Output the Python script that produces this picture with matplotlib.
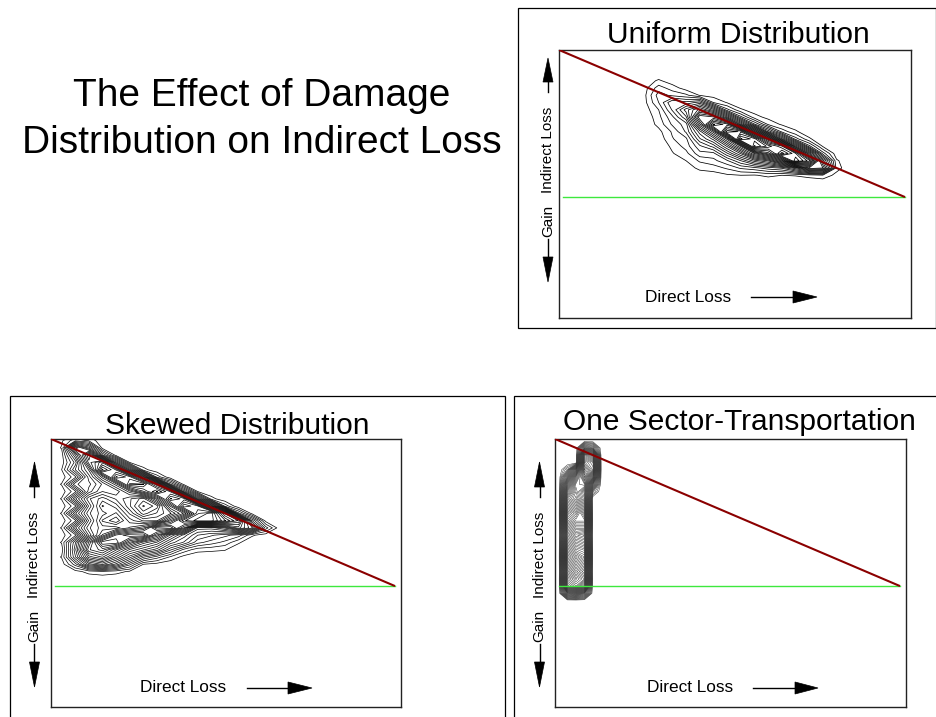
import numpy as np
import matplotlib
matplotlib.use("Agg")
import matplotlib.pyplot as plt
from matplotlib.patches import Rectangle, Polygon
from matplotlib.lines import Line2D

plt.rcParams['font.family'] = ['Liberation Sans', 'DejaVu Sans']

# ------------------------------------------------------------------
# Density grids (bin centres and counts) for the three damage scenarios.
# Each grid is surrounded by a ring of empty bins when contoured.
# ------------------------------------------------------------------
uniform_x = [0.20, 0.24, 0.28, 0.32, 0.36, 0.40, 0.44, 0.48, 0.52,
             0.56, 0.60, 0.64, 0.68, 0.72, 0.76, 0.80, 0.84]
uniform_y = [0.90, 0.85, 0.80, 0.75, 0.70, 0.65, 0.60, 0.55, 0.50,
             0.45, 0.40, 0.35, 0.30, 0.25, 0.20, 0.15, 0.10]
uniform_density = [
    [0, 0, 0, 0, 0, 0, 0, 0, 0, 0, 0, 0, 0, 0, 0],
    [0.3, 1.2, 0.3, 0, 0, 0, 0, 0, 0, 0, 0, 0, 0, 0, 0],
    [0.6, 2.8, 1.6, 0.4, 0, 0, 0, 0, 0, 0, 0, 0, 0, 0, 0],
    [0.8, 4, 3.1, 2.5, 0.9, 0.5, 0, 0, 0, 0, 0, 0, 0, 0, 0],
    [0.7, 3.4, 7, 6.2, 7.5, 2.2, 0.9, 0, 0, 0, 0, 0, 0, 0, 0],
    [0.4, 2.2, 6, 10, 13.5, 10, 3.8, 1.2, 0.4, 0, 0, 0, 0, 0, 0],
    [0, 1.8, 4.3, 8, 19, 18, 12, 5, 1.5, 0.6, 0, 0, 0, 0, 0],
    [0, 1.4, 3.6, 5.2, 15, 24, 22, 13, 6, 2, 0.8, 0.3, 0, 0, 0],
    [0, 0.6, 2.4, 4.8, 10, 16, 27, 26, 17, 8, 3, 1.2, 0.2, 0, 0],
    [0, 0.2, 2.1, 3.1, 8, 11, 17, 30, 28, 20, 11, 4, 1.2, 0, 0],
    [0, 0, 1.3, 2.7, 5.5, 7.5, 12, 18, 30, 27, 24, 13, 5, 0.8, 0],
    [0, 0, 0.9, 1.8, 4.2, 4.2, 8, 12, 18, 22, 28, 24, 14, 4, 0.2],
    [0, 0, 0.3, 1.0, 2.4, 3, 4.4, 7, 10, 12, 17, 26, 22, 10, 1.2],
    [0, 0, 0, 0.4, 1.3, 1.6, 2.4, 3.6, 4.2, 5.2, 6, 9, 14, 13, 1.6],
    [0, 0, 0, 0, 0.3, 0.4, 0.8, 1.0, 0.9, 1.3, 1.0, 1.1, 1.5, 2, 0.5],
]

skewed_x = [-0.02, 0.02, 0.06, 0.10, 0.14, 0.18, 0.22, 0.26, 0.30, 0.34,
            0.38, 0.42, 0.46, 0.50, 0.54, 0.58, 0.62, 0.66, 0.70]
skewed_y = [1.05, 1.00, 0.95, 0.90, 0.85, 0.80, 0.75, 0.70, 0.65, 0.60, 0.55,
            0.50, 0.45, 0.40, 0.35, 0.30, 0.25, 0.20, 0.15, 0.10, 0.05]
skewed_density = [
    [0.8, 3, 2, 0, 0, 0, 0, 0, 0, 0, 0, 0, 0, 0, 0, 0, 0],
    [1.1, 14, 9, 0.5, 0, 0, 0, 0, 0, 0, 0, 0, 0, 0, 0, 0, 0],
    [0.4, 8, 18, 6, 0.5, 0, 0, 0, 0, 0, 0, 0, 0, 0, 0, 0, 0],
    [0.3, 5, 16, 20, 9, 1, 0, 0, 0, 0, 0, 0, 0, 0, 0, 0, 0],
    [1.0, 7, 12, 24, 20, 10, 1.5, 0, 0, 0, 0, 0, 0, 0, 0, 0, 0],
    [0.3, 3, 10, 16, 24, 22, 14, 3, 0, 0, 0, 0, 0, 0, 0, 0, 0],
    [1.1, 8, 9, 12, 16, 24, 24, 18, 6, 0.5, 0, 0, 0, 0, 0, 0, 0],
    [0.3, 3, 10, 13, 12, 16, 20, 24, 20, 8, 1, 0, 0, 0, 0, 0, 0],
    [1.1, 8, 14, 16, 14, 12, 10, 16, 24, 22, 10, 1.5, 0, 0, 0, 0, 0],
    [0.3, 3, 12, 18, 16, 12, 8, 10, 18, 26, 24, 14, 3, 0, 0, 0, 0],
    [1.1, 8, 14, 16, 18, 14, 10, 12, 14, 18, 26, 28, 20, 5, 0.5, 0, 0],
    [0.3, 3, 12, 18, 20, 16, 14, 14, 20, 26, 28, 28, 24, 20, 7, 0.5, 0],
    [1.1, 8, 14, 16, 16, 18, 20, 26, 26, 20, 10, 10, 12, 16, 12, 4, 0.3],
    [0.3, 3, 12, 18, 24, 26, 26, 20, 14, 10, 7, 6, 5, 4, 1.2, 0.3, 0],
    [1.1, 8, 18, 26, 26, 20, 16, 14, 10, 8, 5, 4, 3, 1.2, 0, 0, 0],
    [0.3, 9, 20, 22, 18, 14, 12, 10, 6, 3, 1.5, 1.3, 1.1, 0, 0, 0, 0],
    [1.1, 8, 16, 18, 14, 10, 6, 4, 2, 0.5, 0, 0, 0, 0, 0, 0, 0],
    [0.3, 4, 10, 12, 9, 5, 1, 0.5, 0, 0, 0, 0, 0, 0, 0, 0, 0],
    [0, 0.5, 1.5, 2, 1.5, 0.8, 0, 0, 0, 0, 0, 0, 0, 0, 0, 0, 0],
]

transport_x = [-0.025, 0.0, 0.025, 0.05, 0.075, 0.10, 0.125, 0.15]
transport_y = [1.00, 0.95, 0.90, 0.85, 0.80, 0.75, 0.70, 0.65, 0.60, 0.55,
               0.50, 0.45, 0.40, 0.35, 0.30, 0.25, 0.20, 0.15, 0.10, 0.05,
               0.00, -0.05, -0.10]
transport_density = [
    [0, 0, 0, 8, 6, 0],
    [0, 0, 0, 20, 17, 0],
    [0, 0, 0, 24, 22, 0],
    [0, 3, 12, 27, 23, 0],
    [0, 8, 18, 25, 17, 0],
    [0, 13, 21, 22, 9, 0],
    [0, 17, 22, 18, 3, 0],
    [0, 20, 23, 19, 0, 0],
    [0, 23, 26, 22, 0, 0],
    [0, 26, 29, 25, 0, 0],
    [0, 24, 27, 27, 0, 0],
    [0, 21, 24, 24, 0, 0],
    [0, 18, 21, 20, 0, 0],
    [0, 21, 24, 23, 0, 0],
    [0, 24, 27, 26, 0, 0],
    [0, 27, 30, 28, 0, 0],
    [0, 24, 27, 25, 0, 0],
    [0, 21, 24, 22, 0, 0],
    [0, 24, 27, 25, 0, 0],
    [0, 22, 25, 21, 0, 0],
    [0, 10, 12, 8, 0, 0],
]

# Reference lines: equal-loss diagonal ends at (1, 0); zero line spans 0..1
diag_start_x, diag_end = -0.0113, (1.0, 0.0)
zero_line_x = [0.0, 1.0]

titles = ["Uniform Distribution", "Skewed Distribution", "One Sector-Transportation"]
main_title = ["The Effect of Damage", "Distribution on Indirect Loss"]

# ------------------------------------------------------------------
W, H = 937, 717
fig = plt.figure(figsize=(W / 100, H / 100), dpi=100)


def fx(px):
    return px / W


def fy(py):
    return 1 - py / H


def fig_line(xs, ys, **kw):
    fig.add_artist(Line2D([fx(v) for v in xs], [fy(v) for v in ys],
                          transform=fig.transFigure, **kw))


def fig_tri(pts):
    fig.add_artist(Polygon([(fx(a), fy(b)) for a, b in pts], closed=True,
                           transform=fig.transFigure, facecolor='black',
                           edgecolor='black', lw=0.5))


panels = [
    dict(box=(518, 8, 936, 328), axes=(559, 50, 911, 318),
         title=(738, 43), vx=548, up=(58, 82, 92), ind=149.5, gain=221,
         down=(239, 257, 282), direct=(688, 297), harrow=(751, 793, 817),
         grid=(uniform_x, uniform_y, uniform_density), step=1.2, lw=0.55,
         color='black', name=titles[0]),
    dict(box=(10, 396, 505, 760), axes=(51, 439, 401, 707),
         title=(237, 434), vx=34.5, up=(462, 487, 497), ind=554.5, gain=626,
         down=(644, 662, 687), direct=(183, 688), harrow=(247, 288, 312),
         grid=(skewed_x, skewed_y, skewed_density), step=1.2, lw=0.5,
         color='black', name=titles[1]),
    dict(box=(514, 396, 960, 760), axes=(555, 439, 906, 707),
         title=(739.5, 430), vx=539.5, up=(462, 487, 497), ind=554.5, gain=626,
         down=(644, 662, 687), direct=(690.5, 688), harrow=(753, 795, 818),
         grid=(transport_x, transport_y, transport_density), step=0.6, lw=0.35,
         color='#333333', name=titles[2]),
]

for p in panels:
    bx0, by0, bx1, by1 = p['box']
    fig.add_artist(Rectangle((fx(bx0), fy(by1)), fx(bx1 - bx0), (by1 - by0) / H,
                             transform=fig.transFigure, fill=False,
                             edgecolor='black', lw=0.9))
    ax0, ay0, ax1, ay1 = p['axes']
    ax = fig.add_axes([fx(ax0), fy(ay1), (ax1 - ax0) / W, (ay1 - ay0) / H])
    ax.set_xlim(-0.0113, 1.0175)
    ax.set_ylim(-0.831, 1.011)
    ax.set_xticks([])
    ax.set_yticks([])
    for s in ax.spines.values():
        s.set_linewidth(1.0)
        s.set_color('#222222')

    gx, gy, dens = p['grid']
    Z = np.pad(np.array(dens, dtype=float), 1)
    X, Y = np.meshgrid(np.array(gx), np.array(gy))
    X, Y, Z = np.flipud(X), np.flipud(Y), np.flipud(Z)
    levels = np.arange(1.0, Z.max(), p['step'])
    ax.contour(X, Y, Z, levels=levels, colors=p['color'],
               linewidths=p['lw'], zorder=2)

    ax.plot(zero_line_x, [0, 0], color='#3ee83e', lw=1.0, zorder=3)
    ax.plot([diag_start_x, diag_end[0]], [1 - diag_start_x, diag_end[1]],
            color='#8b0000', lw=1.5, zorder=4, solid_capstyle='butt')

    # titles and axis captions
    tx, tb = p['title']
    fig.text(fx(tx), fy(tb), p['name'], ha='center', va='baseline', fontsize=21.5)
    vx = p['vx']
    fig.text(fx(vx), fy(p['ind']), "Indirect Loss", rotation=90,
             ha='center', va='center', fontsize=11)
    fig.text(fx(vx), fy(p['gain']), "Gain", rotation=90,
             ha='center', va='center', fontsize=11)
    tip, base, shaft_end = p['up']
    fig_tri([(vx, tip), (vx - 5, base), (vx + 5, base)])
    fig_line([vx, vx], [base, shaft_end], color='black', lw=1.0)
    s0, dbase, dtip = p['down']
    fig_line([vx, vx], [s0, dbase], color='black', lw=1.0)
    fig_tri([(vx, dtip), (vx - 5, dbase), (vx + 5, dbase)])
    dx, dy = p['direct']
    fig.text(fx(dx), fy(dy), "Direct Loss", ha='center', va='center', fontsize=12.4)
    hs, hb, ht = p['harrow']
    fig_line([hs, hb], [dy, dy], color='black', lw=1.0)
    fig_tri([(ht, dy), (hb, dy - 6), (hb, dy + 6)])

fig.text(fx(262), fy(106), main_title[0], ha='center', va='baseline', fontsize=28)
fig.text(fx(262), fy(153), main_title[1], ha='center', va='baseline', fontsize=28)

fig.savefig("out.png", dpi=100, facecolor='white')
